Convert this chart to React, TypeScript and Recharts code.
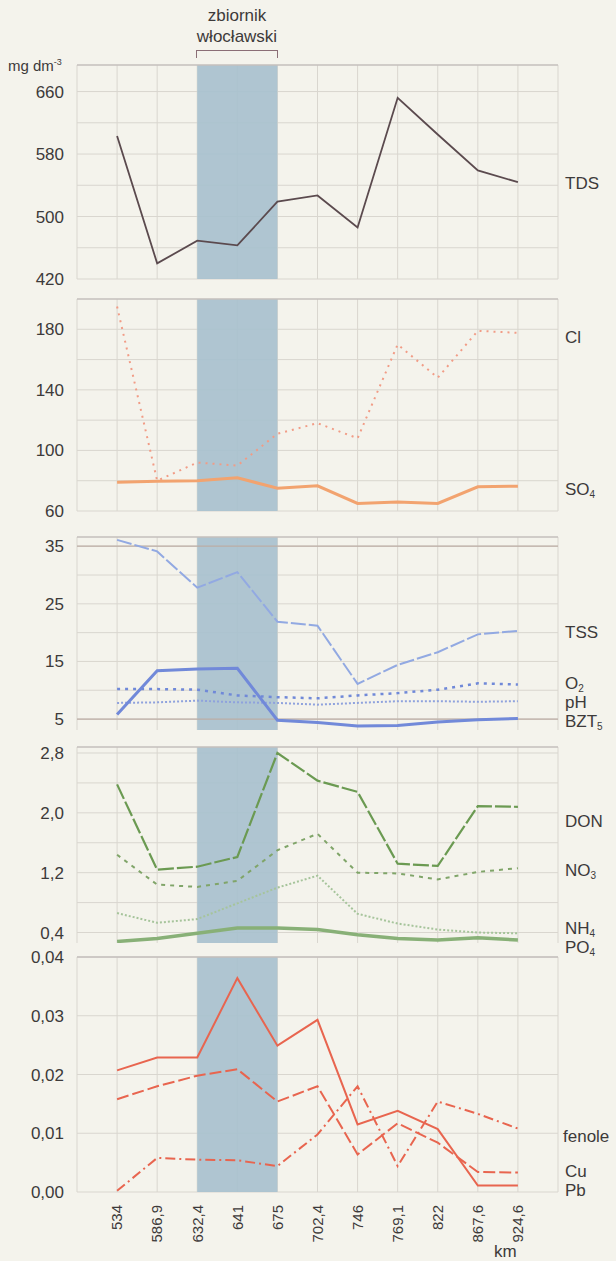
import React from 'react';
import { LineChart, Line, XAxis, YAxis, CartesianGrid, ReferenceArea, ReferenceLine } from 'recharts';

// stations along the river (km)
const cats = ['534', '586,9', '632,4', '641', '675', '702,4', '746', '769,1', '822', '867,6', '924,6'];
const xSlots = [-1, 0, 1, 2, 3, 4, 5, 6, 7, 8, 9, 10, 11];

// panel 1
const tds = [603, 440, 469, 463, 519, 527, 486, 652, 605, 559, 544];
const tdsTicks = [420, 500, 580, 660];
const tdsGrid = [420, 460, 500, 540, 580, 620, 660];

// panel 2
const cl = [195, 80, 92, 90, 111, 118, 108, 170, 148, 179, 177.6];
const so4 = [79, 79.7, 80, 82, 75, 76.6, 65, 66, 65, 76, 76.4];
const p2Ticks = [60, 100, 140, 180];
const p2Grid = [60, 80, 100, 120, 140, 160, 180];

// panel 3
const tss = [36.1, 34.1, 27.8, 30.5, 21.9, 21.2, 11.1, 14.4, 16.6, 19.7, 20.3];
const o2 = [10.2, 10.2, 10.1, 9.1, 8.8, 8.6, 9.1, 9.5, 10.1, 11.2, 11.0];
const ph = [7.8, 7.9, 8.2, 7.9, 7.8, 7.5, 7.8, 8.1, 8.1, 8.0, 8.1];
const bzt5 = [5.8, 13.4, 13.7, 13.8, 4.8, 4.4, 3.8, 3.9, 4.5, 4.9, 5.1];
const p3Ticks = [5, 15, 25, 35];
const p3Grid = [5, 10, 15, 20, 25, 30, 35];

// panel 4
const don = [2.38, 1.24, 1.28, 1.41, 2.8, 2.43, 2.28, 1.32, 1.29, 2.09, 2.08];
const no3 = [1.44, 1.04, 1.01, 1.09, 1.5, 1.72, 1.2, 1.19, 1.11, 1.21, 1.26];
const nh4 = [0.66, 0.53, 0.58, 0.79, 1.0, 1.16, 0.65, 0.52, 0.44, 0.4, 0.39];
const po4 = [0.28, 0.32, 0.39, 0.46, 0.46, 0.44, 0.37, 0.32, 0.3, 0.33, 0.3];
const p4Ticks = [0.4, 1.2, 2.0, 2.8];
const p4Grid = [0.4, 0.8, 1.2, 1.6, 2.0, 2.4, 2.8];

// panel 5
const pb = [0.0207, 0.0229, 0.0229, 0.0364, 0.0249, 0.0293, 0.0115, 0.0138, 0.0107, 0.0011, 0.0011];
const cu = [0.0158, 0.018, 0.0198, 0.0209, 0.0154, 0.018, 0.0064, 0.0117, 0.0084, 0.0034, 0.0033];
const fenole = [0.0002, 0.0058, 0.0055, 0.0054, 0.0044, 0.0098, 0.018, 0.0044, 0.0154, 0.0133, 0.0108];
const p5Ticks = [0, 0.01, 0.02, 0.03, 0.04];

const data = cats.map((c, i) => ({
  i,
  tds: tds[i], cl: cl[i], so4: so4[i],
  tss: tss[i], o2: o2[i], ph: ph[i], bzt5: bzt5[i],
  don: don[i], no3: no3[i], nh4: nh4[i], po4: po4[i],
  pb: pb[i], cu: cu[i], fenole: fenole[i],
}));

const FONT = '"Liberation Sans", Arial, sans-serif';
const TXT = '#3d3a3a';
const GRID = '#d9d6cf';
const BAND = '#a8c1ce';
const W = 616;
const PAD = 12;

const comma = (d: number) => (v: number) => v.toFixed(d).replace('.', ',');

const KmTick = (props: any) => {
  const { x, y, payload } = props;
  const label = cats[payload.value];
  if (!label) return null;
  return (
    <text x={x} y={y} transform={`rotate(-90 ${x} ${y})`} textAnchor="end" dy="0.35em"
      fontSize={15} fill={TXT} fontFamily={FONT}>
      {label}
    </text>
  );
};

type PanelProps = {
  top: number;
  plotH: number;
  domain: [number, number];
  ticks: number[];
  grid: number[];
  fmt: (v: number) => string;
  bottomAxis?: boolean;
  children: React.ReactNode;
  extra?: React.ReactNode;
};

const Panel = ({ top, plotH, domain, ticks, grid, fmt, bottomAxis, children, extra }: PanelProps) => {
  const axisH = bottomAxis ? 66 : 0;
  const bottom = bottomAxis ? 2 : PAD;
  return (
    <div style={{ position: 'absolute', left: 0, top: top - PAD }}>
      <LineChart width={W} height={plotH + PAD + bottom + axisH} data={data}
        margin={{ top: PAD, right: 58, left: 0, bottom }}>
        <CartesianGrid stroke={GRID} strokeWidth={1} horizontalValues={grid} verticalValues={xSlots} />
        <ReferenceArea x1={2} x2={4} fill={BAND} fillOpacity={0.92} stroke="none" ifOverflow="visible" />
        <ReferenceLine y={domain[1]} stroke="#c4bfbd" strokeWidth={1.5} />
        <XAxis type="number" dataKey="i" domain={[-1, 11]} ticks={xSlots} allowDataOverflow
          hide={!bottomAxis} height={axisH} axisLine={false} tickLine={false} tickSize={0} tickMargin={13}
          tick={<KmTick />} interval={0} />
        <YAxis type="number" domain={domain} ticks={ticks} allowDataOverflow width={77}
          axisLine={false} tickLine={false} tickSize={0} tickMargin={13} interval={0}
          tickFormatter={fmt}
          tick={{ fontSize: 17, fill: TXT, fontFamily: FONT }} />
        {extra}
        {children}
      </LineChart>
    </div>
  );
};

const Side = ({ y, children, x = 565 }: { y: number; x?: number; children: React.ReactNode }) => (
  <div style={{ position: 'absolute', left: x, top: y, transform: 'translateY(-50%)', fontSize: 17,
    color: TXT, fontFamily: FONT, lineHeight: 1, whiteSpace: 'nowrap' }}>
    {children}
  </div>
);

const sub = (s: string) => <sub style={{ fontSize: 10, verticalAlign: -3, lineHeight: 0 }}>{s}</sub>;

export default function App() {
  const line = (key: string, color: string, width: number, dash?: string) => (
    <Line key={key} type="linear" dataKey={key} stroke={color} strokeWidth={width}
      strokeDasharray={dash} dot={false} isAnimationActive={false} />
  );
  return (
    <div style={{ position: 'absolute', left: 0, top: 0, width: W, height: 1261, background: '#f4f3ec',
      overflow: 'hidden', fontFamily: FONT }}>
      <div style={{ position: 'absolute', left: 187, width: 100, top: 5, textAlign: 'center', fontSize: 17,
        color: TXT, lineHeight: '21px' }}>
        zbiornik<br />włocławski
      </div>
      <div style={{ position: 'absolute', left: 196, top: 50, width: 80, height: 7,
        borderTop: '1.5px solid #8b6e76', borderLeft: '1.5px solid #8b6e76', borderRight: '1.5px solid #8b6e76' }} />
      <div style={{ position: 'absolute', left: 8, top: 57, fontSize: 15, color: TXT }}>
        mg dm<sup style={{ fontSize: 9, verticalAlign: 6 }}>-3</sup>
      </div>

      <Panel top={65} plotH={214} domain={[420, 694]} ticks={tdsTicks} grid={tdsGrid} fmt={comma(0)}>
        {line('tds', '#5b4a4e', 1.8)}
      </Panel>

      <Panel top={299} plotH={212} domain={[60, 200]} ticks={p2Ticks} grid={p2Grid} fmt={comma(0)}>
        {line('cl', '#f19c86', 2, '2 5')}
        {line('so4', '#f2a36f', 3)}
      </Panel>

      <Panel top={537} plotH={193} domain={[3.1, 36.6]} ticks={p3Ticks} grid={p3Grid} fmt={comma(0)}
        extra={[
          <ReferenceLine key="r35" y={35} stroke="#bcaea6" strokeWidth={1.3} />,
          <ReferenceLine key="r5" y={5} stroke="#bcaea6" strokeWidth={1.3} />,
        ]}>
        {line('tss', '#92a9e2', 2, '15 3')}
        {line('ph', '#8fa2dd', 2, '2 2')}
        {line('o2', '#7089d8', 2.5, '3 5')}
        {line('bzt5', '#7189d9', 3)}
      </Panel>

      <Panel top={747} plotH={196} domain={[0.26, 2.88]} ticks={p4Ticks} grid={p4Grid} fmt={comma(1)}>
        {line('don', '#6b9a52', 2.2, '16 3')}
        {line('no3', '#80a569', 2, '4 5')}
        {line('nh4', '#a6c49b', 2, '2 2')}
        {line('po4', '#88b077', 3.5)}
      </Panel>

      <Panel top={957} plotH={235} domain={[0, 0.04]} ticks={p5Ticks} grid={p5Ticks} fmt={comma(2)} bottomAxis>
        {line('fenole', '#e8654f', 2, '10 4 2 4')}
        {line('cu', '#e8654f', 2, '12 4')}
        {line('pb', '#e8654f', 2)}
      </Panel>

      <Side y={183}>TDS</Side>
      <Side y={337}>Cl</Side>
      <Side y={489}>SO{sub('4')}</Side>
      <Side y={632}>TSS</Side>
      <Side y={683}>O{sub('2')}</Side>
      <Side y={702}>pH</Side>
      <Side y={721}>BZT{sub('5')}</Side>
      <Side y={821}>DON</Side>
      <Side y={870}>NO{sub('3')}</Side>
      <Side y={928}>NH{sub('4')}</Side>
      <Side y={947}>PO{sub('4')}</Side>
      <Side y={1136} x={563}>fenole</Side>
      <Side y={1171}>Cu</Side>
      <Side y={1190}>Pb</Side>
      <div style={{ position: 'absolute', left: 494, top: 1243, fontSize: 17, color: TXT, lineHeight: '17px' }}>km</div>
    </div>
  );
}
